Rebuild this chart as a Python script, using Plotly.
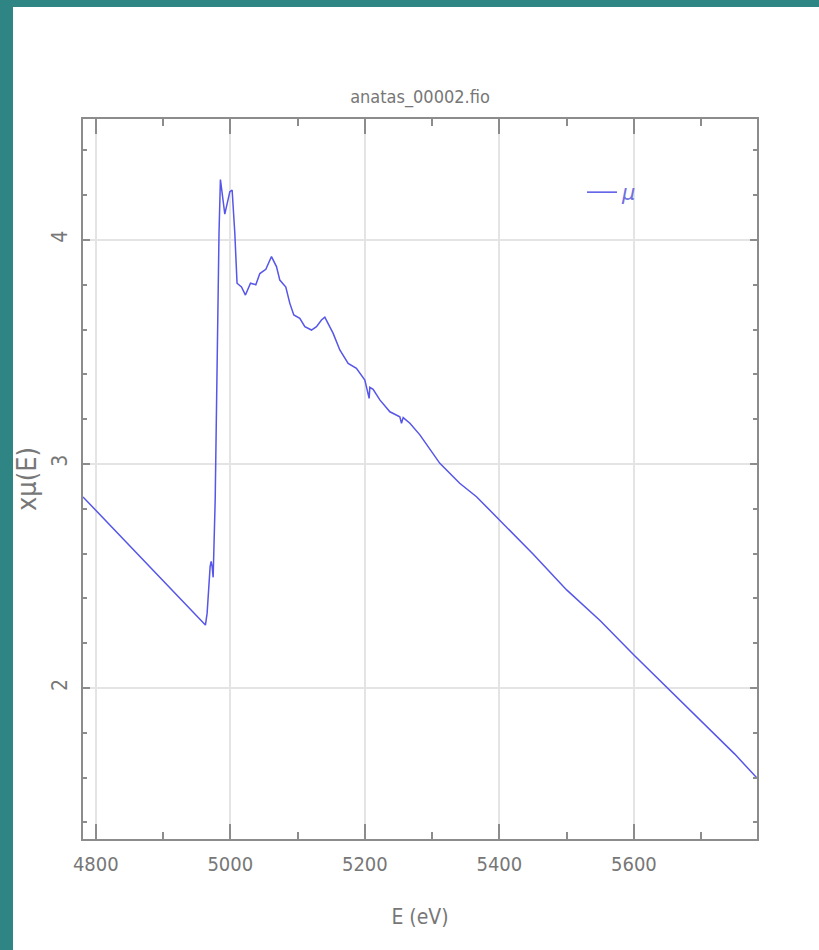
import plotly.graph_objects as go

# ---- data ----
energy = [4781, 4850, 4900, 4950, 4963, 4965.5, 4967, 4968.5, 4970, 4971.5, 4973, 4974.5,
          4976, 4977.5, 4983.2, 4985.3, 4991.8, 4995.7, 4999.3, 5002.7, 5006.7, 5010,
          5016.6, 5022.5, 5030, 5037.9, 5043.9, 5052.8, 5061.2, 5068.6, 5073.6, 5082.5,
          5088.5, 5094.4, 5103.3, 5110.8, 5120.7, 5128.1, 5135.5, 5140.5, 5145.4, 5152.9,
          5162.8, 5175.2, 5187.5, 5200, 5206.4, 5207.4, 5212.3, 5222.3, 5237.2, 5252,
          5254.5, 5257, 5267, 5281.8, 5311.5, 5341, 5366, 5400, 5450, 5500, 5550, 5600,
          5650, 5700, 5750, 5783]
mu = [2.853, 2.636, 2.479, 2.322, 2.281, 2.333, 2.408, 2.438, 2.542, 2.565, 2.542, 2.494,
      2.661, 2.839, 4.03, 4.27, 4.115, 4.164, 4.216, 4.223, 4.03, 3.807,
      3.79, 3.754, 3.807, 3.80, 3.85, 3.869, 3.926, 3.881, 3.821, 3.79,
      3.717, 3.665, 3.65, 3.613, 3.598, 3.613, 3.643, 3.655, 3.628, 3.583,
      3.509, 3.449, 3.427, 3.375, 3.293, 3.342, 3.333, 3.286, 3.233, 3.211,
      3.182, 3.207, 3.182, 3.13, 3.003, 2.914, 2.854, 2.75, 2.598, 2.438, 2.30, 2.147,
      2.0, 1.853, 1.705, 1.598]

title_text = "anatas_00002.fio"
x_title = "E (eV)"
y_title = "xμ(E)"
legend_name = "μ"
x_range = [4781, 5783]
y_range = [1.326, 4.54]

FONT = "DejaVu Sans Condensed, Liberation Sans, sans-serif"
GRAY = "#777777"
FRAME = "#8c8c8c"
LINE = "#5656e8"

fig = go.Figure()
fig.add_trace(go.Scatter(x=energy, y=mu, mode="lines", name=legend_name,
                         line=dict(color=LINE, width=1.5)))

W, H = 819, 950
L, R, T, B = 83, 757, 119, 839
pw, ph = R - L, B - T


def px_x(p):
    return (p - L) / pw


def px_y(p):
    return (B - p) / ph


fig.add_shape(type="rect", xref="paper", yref="paper", layer="below",
              x0=px_x(13), x1=px_x(830), y0=px_y(960), y1=px_y(7),
              fillcolor="white", line=dict(width=0))

fig.update_layout(
    width=W, height=H,
    margin=dict(l=L, r=W - R, t=T, b=H - B, pad=0),
    paper_bgcolor="#2f8484",
    plot_bgcolor="white",
    font=dict(family=FONT, color=GRAY),
    title=dict(text=title_text, x=0.5, xref="paper", xanchor="center",
               y=1 - 97 / H, yanchor="middle", font=dict(size=18, color=GRAY)),
    showlegend=True,
    legend=dict(x=px_x(582), y=px_y(172), xanchor="left", yanchor="top",
                bgcolor="rgba(0,0,0,0)", borderwidth=0,
                font=dict(size=21, color="#7070e0", family="DejaVu Sans, sans-serif",
                          style="italic"),
                itemwidth=30),
)

fig.update_xaxes(
    range=x_range, showline=True, linecolor=FRAME, linewidth=2, mirror="allticks",
    ticks="inside", ticklen=15, tickwidth=1.5, tickcolor=FRAME,
    tick0=4800, dtick=200, showgrid=True, gridcolor="#e4e4e4", gridwidth=1.5,
    zeroline=False, tickfont=dict(size=20, color=GRAY), ticklabelstandoff=6,
    minor=dict(ticks="inside", ticklen=7, tickwidth=1.5, tickcolor=FRAME, dtick=100,
               tick0=4800, showgrid=False),
    title=dict(text=x_title, font=dict(size=21, color=GRAY), standoff=34),
)
fig.update_yaxes(
    range=y_range, showline=True, linecolor=FRAME, linewidth=2, mirror="allticks",
    ticks="inside", ticklen=7, tickwidth=1.5, tickcolor=FRAME,
    tick0=0, dtick=1, showgrid=True, gridcolor="#e4e4e4", gridwidth=1.5,
    zeroline=False, tickfont=dict(size=21, color=GRAY), tickangle=-90,
    ticklabelstandoff=6,
    minor=dict(ticks="inside", ticklen=4, tickwidth=1.5, tickcolor=FRAME, dtick=0.2,
               tick0=0, showgrid=False),
    title=dict(text=y_title, font=dict(size=27, color=GRAY), standoff=3),
)

fig.write_html("out.html")
